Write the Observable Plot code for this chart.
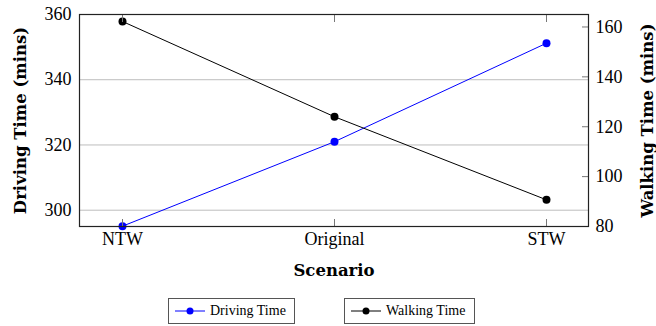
<!DOCTYPE html>
<html>
<head>
<meta charset="utf-8">
<script src="https://cdn.jsdelivr.net/npm/d3@7"></script>
<script src="https://cdn.jsdelivr.net/npm/@observablehq/plot@0.6"></script>
<style>
  body { margin: 0; background: #fff; }
  #chart { position: relative; width: 656px; height: 326px; }
  .legend { position: relative; width: 656px; height: 36px; font-family: "Liberation Serif", serif; font-size: 14px; color: #000; }
  .legend .item { position: absolute; top: 8px; height: 26px; box-sizing: border-box; border: 1px solid #555; display: flex; align-items: center; background: #fff; }
  .legend svg { display: block; }
</style>
</head>
<body>
<div id="chart"></div>
<script>
// Scenarios along the x axis
const scenarios = ["NTW", "Original", "STW"];
// Driving time per scenario (left axis, minutes)
const drivingTime = [295.1, 321.0, 351.2];
// Walking time per scenario (right axis, minutes)
const walkingTime = [162.2, 124.0, 90.7];

const drivingTicks = [300, 320, 340, 360];
const walkingTicks = [80, 100, 120, 140, 160];
const drivingDomain = [295, 360];
const walkingDomain = [80, 165];

const series = [
  {name: "Driving Time", color: "#0000ff"},
  {name: "Walking Time", color: "#000000"}
];

// Walking values are mapped onto the driving scale so both share one y scale
const toLeft = d3.scaleLinear(walkingDomain, drivingDomain);

const rows = scenarios.map((s, i) => ({scenario: s, driving: drivingTime[i], walking: walkingTime[i]}));

const plot = Plot.plot({
  width: 656,
  height: 290,
  marginLeft: 79,
  marginRight: 68,
  marginTop: 14,
  marginBottom: 64,
  style: {fontFamily: "Liberation Serif", fontSize: "18px", background: "#fff"},
  x: {type: "point", domain: scenarios, padding: 0.2},
  y: {domain: drivingDomain},
  marks: [
    Plot.gridY(drivingTicks, {stroke: "#bdbdbd", strokeOpacity: 1}),
    Plot.line(rows, {x: "scenario", y: "driving", stroke: series[0].color, strokeWidth: 1}),
    Plot.dot(rows, {x: "scenario", y: "driving", fill: series[0].color, r: 4}),
    Plot.line(rows, {x: "scenario", y: d => toLeft(d.walking), stroke: series[1].color, strokeWidth: 1}),
    Plot.dot(rows, {x: "scenario", y: d => toLeft(d.walking), fill: series[1].color, r: 4}),
    Plot.axisY({
      ticks: drivingTicks, tickSize: 0, tickPadding: 8,
      label: "Driving Time (mins)", labelAnchor: "center", labelOffset: 65, labelArrow: "none"
    }),
    Plot.axisY({
      anchor: "right", ticks: walkingTicks.map(toLeft),
      tickFormat: d => Math.round(toLeft.invert(d)),
      tickSize: -7, tickPadding: 14, stroke: "#777",
      label: "Walking Time (mins)", labelAnchor: "center", labelOffset: 64, labelArrow: "none"
    }),
    Plot.axisX({
      ticks: scenarios, tickSize: -7, tickPadding: 13, stroke: "#777",
      label: "Scenario", labelAnchor: "center", labelOffset: 49, labelArrow: "none"
    }),
    Plot.axisX({anchor: "top", ticks: scenarios, tickSize: -7, tickFormat: () => "", stroke: "#777", label: null}),
    Plot.frame({stroke: "#222", strokeWidth: 1.2})
  ]
});

// Serif tick labels, bold serif axis titles
const svg = d3.select(plot);
svg.selectAll("text").style("font-family", "'Liberation Serif', serif").style("font-size", "18px");
svg.selectAll('g[aria-label="y-axis label"] text, g[aria-label="x-axis label"] text')
  .style("font-family", "'DejaVu Serif', serif")
  .style("font-weight", "bold")
  .style("font-size", "16.5px");

const chart = document.getElementById("chart");
chart.appendChild(plot);

// Legend below the plot
const legend = d3.select(chart).append("div").attr("class", "legend");
const boxes = [{left: 168, width: 127}, {left: 344, width: 131}];
series.forEach((s, i) => {
  const item = legend.append("div").attr("class", "item")
    .style("left", boxes[i].left + "px").style("width", boxes[i].width + "px");
  const sw = item.append("svg").attr("width", 38).attr("height", 14);
  sw.append("line").attr("x1", 6).attr("x2", 36).attr("y1", 7).attr("y2", 7).attr("stroke", s.color).attr("stroke-width", 1);
  sw.append("circle").attr("cx", 21).attr("cy", 7).attr("r", 3.5).attr("fill", s.color);
  item.append("span").text(s.name).style("margin-left", "3px");
});
</script>
</body>
</html>
